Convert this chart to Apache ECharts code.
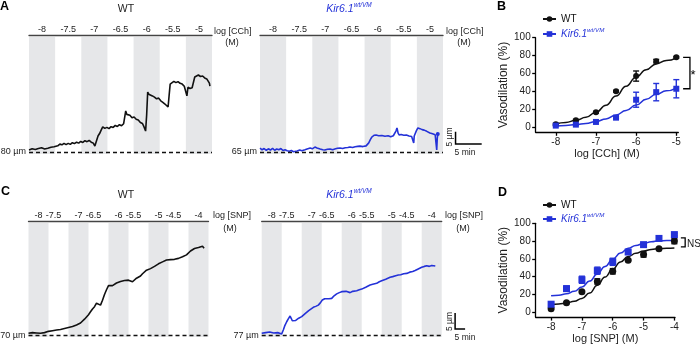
<!DOCTYPE html>
<html>
<head>
<meta charset="utf-8">
<script src="https://cdn.jsdelivr.net/npm/echarts@6/dist/echarts.min.js"></script>
<style>
  html, body { margin: 0; padding: 0; background: #fff; }
  #chart { width: 700px; height: 345px; }
</style>
</head>
<body>
<div id="chart"></div>
<script>
const FONT = '"Liberation Sans", Arial, sans-serif'
const BLACK = '#111'
const BLUE = '#2432d8'
const BAND = '#e6e7e9'

// concentration steps (log M) shown above the traces
const cchSteps = ['-8', '-7.5', '-7', '-6.5', '-6', '-5.5', '-5']
const snpSteps = ['-8', '-7.5', '-7', '-6.5', '-6', '-5.5', '-5', '-4.5', '-4']

// diameter traces: [time (min), diameter (µm)]
const wtCChTrace = [[0,80.8],[0.3,80.2],[0.6,81.3],[0.9,80.5],[1.2,81.0],[1.5,80.3],[1.8,81.4],[2.1,80.7],[2.4,81.7],[2.7,80.9],[3.0,81.2],[3.3,80.6],[3.6,81.5],[3.9,81.0],[4.2,81.9],[4.5,82.5],[4.8,82.1],[5.1,82.9],[5.5,82.5],[5.9,83.2],[6.3,82.9],[6.7,83.5],[7.1,83.0],[7.5,83.5],[7.9,83.1],[8.3,83.8],[8.7,83.4],[9.1,84.0],[9.5,83.6],[9.9,84.3],[10.3,83.9],[10.7,84.6],[11.1,84.2],[11.5,84.7],[11.9,84.0],[12.3,83.6],[12.6,82.4],[12.9,84.5],[13.2,86.5],[13.5,87.5],[13.8,88.9],[14.1,90.2],[14.5,89.6],[14.9,90.0],[15.3,89.5],[15.7,90.3],[16.1,90.0],[16.5,90.8],[16.9,90.4],[17.3,91.1],[17.7,90.7],[18.1,91.5],[18.3,91.2],[18.5,96.7],[18.7,95.3],[18.9,94.6],[19.3,94.9],[19.7,93.9],[20.1,94.2],[20.5,93.3],[20.9,93.0],[21.3,92.0],[21.7,91.6],[22.0,90.2],[22.3,88.5],[22.5,95.0],[22.7,104.4],[22.9,103.5],[23.2,103.9],[23.6,102.8],[24.0,102.3],[24.4,101.6],[24.8,101.9],[25.2,100.8],[25.6,100.2],[26.0,99.5],[26.3,98.9],[26.6,98.3],[26.8,103.0],[27.0,107.6],[27.3,108.2],[27.7,108.7],[28.1,108.2],[28.5,108.6],[28.9,107.9],[29.3,107.6],[29.7,106.7],[30.0,106.9],[30.2,102.8],[30.4,106.3],[30.8,105.8],[31.2,106.1],[31.5,105.4],[31.7,110.5],[32.0,110.9],[32.4,111.3],[32.8,110.7],[33.2,110.9],[33.6,110.1],[34.0,109.7],[34.3,109.3],[34.5,108.0],[34.6,106.8]]
const kirCChTrace = [[0,66.6],[0.4,65.9],[0.8,66.4],[1.2,65.7],[1.6,66.3],[2.0,65.8],[2.4,66.5],[2.8,65.7],[3.2,66.2],[3.6,65.9],[4.0,66.4],[4.4,65.6],[4.8,65.9],[5.2,65.5],[5.6,65.3],[6.0,65.6],[6.4,65.1],[6.7,65.0],[7.1,65.4],[7.6,65.8],[8.0,65.5],[8.6,65.9],[9.0,66.2],[9.6,66.6],[10.0,66.3],[10.5,67.0],[10.9,66.6],[11.5,66.2],[12.0,65.9],[12.4,65.8],[12.9,66.1],[13.4,66.2],[13.9,65.9],[14.3,66.2],[14.8,66.5],[15.3,66.6],[15.8,66.4],[16.3,66.7],[16.8,66.8],[17.2,67.0],[17.7,66.8],[18.2,67.1],[18.7,67.3],[19.1,67.4],[19.7,67.2],[20.3,67.5],[20.8,68.7],[21.1,70.0],[21.4,71.1],[21.8,71.8],[22.2,71.9],[22.7,71.6],[23.3,71.7],[23.9,71.4],[24.5,71.6],[25.0,71.2],[25.2,71.1],[25.5,71.6],[25.8,72.3],[26.0,73.5],[26.2,74.8],[26.4,72.8],[26.6,71.9],[27.0,72.1],[27.5,71.8],[28.0,71.9],[28.5,71.5],[29.0,71.3],[29.3,71.1],[29.4,68.7],[29.5,71.5],[29.6,72.3],[29.9,73.6],[30.2,74.8],[30.6,74.5],[31.0,74.1],[31.4,73.9],[31.9,73.4],[32.5,72.7],[33.0,72.4],[33.5,72.0],[33.7,71.9],[33.8,65.8],[33.9,70.5],[34.0,72.3]]
const wtSNPTrace = [[0,70.7],[1,70.3],[2,70.9],[3,70.4],[4,70.8],[5,70.3],[6,70.7],[7,70.5],[8,70.9],[9,71.0],[10,71.3],[11,71.1],[12,71.5],[13,71.3],[14,71.7],[15,71.6],[16,71.9],[17,71.7],[18,72.2],[19,72.0],[20,72.5],[21,72.3],[22,72.8],[23,72.7],[24,73.3],[25,73.4],[26,73.9],[27,74.4],[28,75.1],[29,75.8],[30,76.5],[31,77.4],[32,78.3],[33,79.0],[34,80.1],[35,79.8],[36,79.5],[37,81.0],[38,82.8],[39,84.3],[40,85.6],[41,85.9],[42,85.6],[43,86.0],[44,86.4],[45,86.2],[46,86.9],[47,86.7],[48,87.2],[49,87.0],[50,87.3],[51,87.0],[52,86.8],[53,87.3],[54,87.9],[55,88.2],[56,88.6],[57,89.3],[58,89.9],[59,90.4],[60,90.6],[61,90.9],[62,91.0],[63,91.6],[64,92.0],[65,92.4],[66,92.6],[67,93.0],[68,93.2],[69,93.6],[70,93.3],[71,93.7],[72,93.5],[73,93.8],[74,93.9],[75,94.1],[76,94.3],[77,94.6],[78,94.9],[79,95.2],[80,95.8],[81,96.4],[82,96.8],[83,97.2],[84,97.6],[85,97.5],[86,97.8],[87,97.9],[87.8,97.3]]
const kirSNPTrace = [[0,77.7],[1,77.4],[2,77.9],[3,77.6],[4,78.1],[5,77.5],[6,77.8],[7,77.5],[8,77.9],[9,77.4],[10,77.5],[10.8,78.7],[11.5,80.0],[12.5,81.3],[13.3,82.2],[14.2,83.1],[14.8,82.3],[15.3,81.6],[16,82.0],[17,81.7],[17.5,81.8],[18.5,82.4],[19.3,82.2],[20,82.9],[21,83.3],[22,84.0],[22.5,84.4],[23.5,84.8],[24.5,85.3],[25.8,85.8],[27,86.1],[28.3,86.5],[29.3,87.2],[30.3,88.1],[31.5,88.5],[32.5,88.8],[33.7,88.5],[35,88.6],[36.2,89.4],[37.5,90.0],[38.8,90.4],[40,90.7],[41,90.5],[42.2,90.8],[43.2,90.3],[44.2,90.4],[45.5,90.8],[46.5,90.6],[47.5,91.0],[48.8,91.3],[50,91.5],[50.8,91.8],[52,92.1],[53,92.5],[54.2,92.8],[55.5,93.0],[56.5,93.2],[57.5,93.3],[58.8,93.8],[60,94.1],[60.8,94.3],[62,94.6],[63,94.9],[64.2,95.2],[65.5,95.4],[67,95.7],[68.3,95.9],[69.5,96.0],[71,96.3],[72.5,96.4],[74,96.8],[75.5,97.0],[76.7,97.3],[78,97.7],[79,98.0],[80,98.3],[81.3,98.6],[82.5,98.8],[83.8,98.6],[85,98.9],[86.8,98.7]]

// concentration-response, CCh (panel B)
const cchLog = [-8, -7.5, -7, -6.5, -6, -5.5, -5]
const cchWT = [3, 7.5, 16.4, 40, 57, 73.7, 78]
const cchWTErr = [1, 1, 1, 1, 5.7, 2, 1]
const cchKir = [1.5, 2.6, 5.6, 10.4, 30.5, 39, 42.8]
const cchKirErr = [0.5, 0.5, 0.5, 1, 8.4, 9.7, 10.2]
const cchFitX = [-8, -7.75, -7.5, -7.25, -7, -6.75, -6.5, -6.25, -6, -5.75, -5.5, -5.25, -5]
const cchFitWT = [3.3, 5.0, 7.4, 10.8, 16.4, 24.4, 34.6, 45.6, 55.8, 64.2, 70.6, 74.4, 77.2]
const cchFitKir = [1.1, 1.7, 2.6, 4.0, 6.0, 9.0, 13.4, 18.5, 24.6, 31.0, 36.5, 40.5, 43.6]

// concentration-response, SNP (panel D)
const snpLog = [-8, -7.5, -7, -6.5, -6, -5.5, -5, -4.5, -4]
const snpWT = [4, 10.5, 23, 34.6, 46, 58.5, 65, 71.5, 80]
const snpWTErr = [1, 1, 1, 3, 3, 1, 3, 1, 3]
const snpKir = [9, 26.5, 36.5, 46.7, 56.7, 67.7, 76, 83, 87.3]
const snpKirErr = [1, 3, 4, 4, 4, 2, 1.5, 2, 1.5]
const snpFitX = [-8, -7.75, -7.5, -7.25, -7, -6.75, -6.5, -6.25, -6, -5.75, -5.5, -5.25, -5, -4.75, -4.5, -4.25, -4]
const snpFitWT = [8.8, 9.3, 10.3, 12.3, 15.5, 21.5, 30.2, 39.5, 48.6, 56.5, 62.6, 66.2, 68.8, 70.5, 71.5, 72, 72.2]
const snpFitKir = [18.4, 19.2, 20.7, 23.5, 28.4, 35, 43, 51.5, 59.7, 66.5, 71.8, 75, 77.3, 79.2, 80.3, 80.7, 81]

const zip = (xs, ys) => xs.map((x, i) => [x, ys[i]])
const zip3 = (xs, ys, es) => xs.map((x, i) => [x, ys[i], es[i]])

const panels = [
  { trace: wtCChTrace, base: 80, steps: cchSteps, stepMin: 5, halfAt: 0.5, pxPerUm: 2.46, basePx: 2, color: BLACK,
    grid: { left: 29, top: 37, width: 183, height: 117 } },
  { trace: kirCChTrace, base: 65, steps: cchSteps, stepMin: 5, halfAt: 0.5, pxPerUm: 2.46, basePx: 2, color: BLUE, endDot: true,
    grid: { left: 260, top: 37, width: 183, height: 117 }, bar: { t: 37.4, d: 68.25 } },
  { trace: wtSNPTrace, base: 70, steps: snpSteps, stepMin: 10, halfAt: 0.25, pxPerUm: 3.2, basePx: 1.5, color: BLACK,
    grid: { left: 28.5, top: 223, width: 180, height: 114 } },
  { trace: kirSNPTrace, base: 77, steps: snpSteps, stepMin: 10, halfAt: 0.25, pxPerUm: 3.2, basePx: 1.5, color: BLUE,
    grid: { left: 261.7, top: 223, width: 180, height: 114 }, bar: { t: 96.7, d: 79.0 } }
]

// polyline drawn through the axes (used for scale bars and brackets outside the plot area)
const polyline = (gi, pts, width) => ({
  type: 'custom', xAxisIndex: gi, yAxisIndex: gi, data: [[0, 0]], silent: true, clip: false, z: 6,
  renderItem: (params, api) => ({
    type: 'polyline',
    shape: { points: pts.map(p => api.coord(p)) },
    style: { stroke: '#000', lineWidth: width, fill: null }
  })
})

const grid = [], xAxis = [], yAxis = [], series = []

panels.forEach((p, i) => {
  grid.push(p.grid)
  const pos = p.steps.map((s, k) => (k + (k % 2 ? p.halfAt : 0.5)) * p.stepMin)
  xAxis.push({
    gridIndex: i, type: 'value', position: 'top', offset: 2, min: 0, max: p.steps.length * p.stepMin,
    axisLine: { lineStyle: { color: '#444', width: 1.3 } },
    axisTick: { show: false },
    splitLine: { show: false },
    axisLabel: {
      customValues: pos,
      formatter: v => p.steps[pos.findIndex(q => Math.abs(q - v) < 1e-6)],
      fontSize: 9, color: '#222', fontFamily: FONT, margin: 1
    }
  })
  const yMin = p.base - p.basePx / p.pxPerUm
  yAxis.push({ gridIndex: i, type: 'value', show: false, min: yMin, max: yMin + p.grid.height / p.pxPerUm })
  const bands = p.steps.map((s, k) => k).filter(k => k % 2 === 0)
    .map(k => [{ xAxis: k * p.stepMin }, { xAxis: (k + 1) * p.stepMin }])
  series.push({
    type: 'line', xAxisIndex: i, yAxisIndex: i, data: p.trace, symbol: 'none', z: 3,
    lineStyle: { color: p.color, width: 1.6 },
    markArea: { silent: true, itemStyle: { color: BAND }, data: bands },
    markLine: {
      silent: true, symbol: 'none',
      lineStyle: { color: '#111', type: [4, 3], width: 1.3 },
      label: { position: 'start', formatter: p.base + ' µm', fontSize: 9, color: '#222', fontFamily: FONT, distance: 3 },
      data: [{ yAxis: p.base }]
    }
  })
  if (p.endDot) {
    series.push({ type: 'scatter', xAxisIndex: i, yAxisIndex: i, data: [p.trace[p.trace.length - 1]],
      symbol: 'circle', symbolSize: 4, itemStyle: { color: p.color, opacity: 1 }, z: 4 })
  }
  if (p.bar) {
    // scale bar: 5 µm vertical, 5 min horizontal
    series.push(polyline(i, [[p.bar.t, p.bar.d + 5], [p.bar.t, p.bar.d], [p.bar.t + 5, p.bar.d]], 1.5))
  }
})

const errorBars = (gi, data, color) => ({
  type: 'custom', xAxisIndex: gi, yAxisIndex: gi, data, z: 4, silent: true,
  renderItem: (params, api) => {
    const x = api.value(0), m = api.value(1), e = api.value(2)
    const hi = api.coord([x, m + e]), lo = api.coord([x, m - e])
    const st = { stroke: color, lineWidth: 1.4 }
    return { type: 'group', children: [
      { type: 'line', shape: { x1: hi[0], y1: hi[1], x2: lo[0], y2: lo[1] }, style: st },
      { type: 'line', shape: { x1: hi[0] - 3, y1: hi[1], x2: hi[0] + 3, y2: hi[1] }, style: st },
      { type: 'line', shape: { x1: lo[0] - 3, y1: lo[1], x2: lo[0] + 3, y2: lo[1] }, style: st }
    ] }
  }
})

const drPanels = [
  { grid: { left: 535.7, top: 37.7, width: 142.6, height: 94.6 }, xMin: -8.5, xMax: -4.95, yMin: -6,
    xTicks: [-8, -7, -6, -5], name: 'log [CCh] (M)', nameGap: 15, sym: 6, key: 'B',
    logs: cchLog, wt: cchWT, wtErr: cchWTErr, kir: cchKir, kirErr: cchKirErr, fitX: cchFitX, fitWT: cchFitWT, fitKir: cchFitKir },
  { grid: { left: 535.7, top: 223.3, width: 139.3, height: 95.7 }, xMin: -8.5, xMax: -3.98, yMin: -5.5,
    xTicks: [-8, -7, -6, -5, -4], name: 'log [SNP] (M)', nameGap: 13, sym: 7, key: 'D',
    logs: snpLog, wt: snpWT, wtErr: snpWTErr, kir: snpKir, kirErr: snpKirErr, fitX: snpFitX, fitWT: snpFitWT, fitKir: snpFitKir }
]

const axisStyle = { lineStyle: { color: '#000', width: 1.3 } }
drPanels.forEach((d, j) => {
  const gi = 4 + j
  grid.push(d.grid)
  xAxis.push({
    gridIndex: gi, type: 'value', min: d.xMin, max: d.xMax,
    name: d.name, nameLocation: 'middle', nameGap: d.nameGap,
    nameTextStyle: { fontSize: 11, color: '#222', fontFamily: FONT },
    axisLine: { onZero: false, ...axisStyle },
    axisTick: { customValues: d.xTicks, length: 3.5, ...axisStyle },
    axisLabel: { customValues: d.xTicks, fontSize: 10, color: '#222', fontFamily: FONT, margin: 5 },
    splitLine: { show: false }
  })
  yAxis.push({
    gridIndex: gi, type: 'value', min: d.yMin, max: 100,
    name: 'Vasodilation (%)', nameLocation: 'middle', nameGap: 21,
    nameTextStyle: { fontSize: 12, color: '#222', fontFamily: FONT },
    axisLine: { onZero: false, ...axisStyle },
    axisTick: { customValues: [0, 20, 40, 60, 80, 100], length: 3.5, ...axisStyle },
    axisLabel: { customValues: [0, 20, 40, 60, 80, 100], fontSize: 10, color: '#222', fontFamily: FONT, margin: 5 },
    splitLine: { show: false }
  })
  series.push(
    { name: 'WT' + d.key, type: 'line', xAxisIndex: gi, yAxisIndex: gi, data: zip(d.fitX, d.fitWT), smooth: true, smoothMonotone: 'x',
      symbol: 'circle', symbolSize: d.sym, showSymbol: false, lineStyle: { color: BLACK, width: 1.5 }, itemStyle: { color: BLACK }, z: 2 },
    { name: 'Kir' + d.key, type: 'line', xAxisIndex: gi, yAxisIndex: gi, data: zip(d.fitX, d.fitKir), smooth: true, smoothMonotone: 'x',
      symbol: 'rect', symbolSize: d.sym, showSymbol: false, lineStyle: { color: BLUE, width: 1.5 }, itemStyle: { color: BLUE }, z: 2 },
    errorBars(gi, zip3(d.logs, d.wt, d.wtErr), BLACK),
    errorBars(gi, zip3(d.logs, d.kir, d.kirErr), BLUE),
    { type: 'scatter', xAxisIndex: gi, yAxisIndex: gi, data: zip(d.logs, d.wt), symbol: 'circle', symbolSize: d.sym,
      itemStyle: { color: BLACK, opacity: 1 }, z: 5 },
    { type: 'scatter', xAxisIndex: gi, yAxisIndex: gi, data: zip(d.logs, d.kir), symbol: 'rect', symbolSize: d.sym,
      itemStyle: { color: BLUE, opacity: 1 }, z: 5 }
  )
})

// significance brackets
const cchTop = cchWT[cchWT.length - 1], cchBottom = cchKir[cchKir.length - 1]
series.push(
  polyline(4, [[-4.83, cchTop], [-4.66, cchTop], [-4.66, cchBottom], [-4.83, cchBottom]], 1.3),
  polyline(5, [[-3.79, 83.5], [-3.65, 83.5], [-3.65, 73.5], [-3.79, 73.5]], 1.3)
)

const kirRich = (size, key) => ({
  i: { fontStyle: 'italic', fontSize: size, fontFamily: FONT, [key]: BLUE, lineHeight: size + 4 },
  s: { fontStyle: 'italic', fontSize: size * 0.62, fontFamily: FONT, [key]: BLUE, verticalAlign: 'top' }
})
const T = (x, y, text, s) => ({
  type: 'text', x, y, silent: true,
  style: Object.assign({ text, fill: '#222', fontSize: 9, fontFamily: FONT, align: 'left', verticalAlign: 'middle' }, s)
})
const bold = { fontSize: 12.5, fontWeight: 'bold', fill: '#000', verticalAlign: 'top' }
const center = { align: 'center' }

const graphic = [
  T(0, 0, 'A', bold), T(497, 0, 'B', bold), T(1, 185, 'C', bold), T(498, 186, 'D', bold),
  T(126, 9, 'WT', { fontSize: 10.5, align: 'center' }),
  T(349, 9, '{i|Kir6.1}{s|wt/VM}', { align: 'center', rich: kirRich(10.5, 'fill') }),
  T(126, 195, 'WT', { fontSize: 10.5, align: 'center' }),
  T(349, 195, '{i|Kir6.1}{s|wt/VM}', { align: 'center', rich: kirRich(10.5, 'fill') }),
  T(214, 32, 'log [CCh]'), T(232, 43, '(M)', center),
  T(446, 32, 'log [CCh]'), T(464, 43, '(M)', center),
  T(213, 216, 'log [SNP]'), T(230, 229, '(M)', center),
  T(445, 216, 'log [SNP]'), T(463, 229, '(M)', center),
  Object.assign(T(449.5, 137, '5 µm', { fontSize: 8.5, align: 'center' }), { rotation: Math.PI / 2 }),
  T(465, 153, '5 min', { fontSize: 8.5, align: 'center' }),
  Object.assign(T(449.5, 321.5, '5 µm', { fontSize: 8.5, align: 'center' }), { rotation: Math.PI / 2 }),
  T(465, 338, '5 min', { fontSize: 8.5, align: 'center' }),
  T(693, 75, '*', { fontSize: 13, fill: '#000', align: 'center' }),
  T(687, 244, 'NS', { fontSize: 10 })
]

const legendText = {
  fontSize: 10, fontFamily: FONT,
  rich: Object.assign({ w: { fontSize: 10, fontFamily: FONT, color: '#111' } }, kirRich(10, 'color'))
}
const legendFmt = n => (n.startsWith('WT') ? '{w|WT}' : '{i|Kir6.1}{s|wt/VM}')
const legend = [
  { left: 537, top: 9, orient: 'vertical', itemWidth: 13, itemHeight: 7, itemGap: 3, selectedMode: false,
    data: ['WTB', 'KirB'], formatter: legendFmt, textStyle: legendText },
  { left: 537, top: 195, orient: 'vertical', itemWidth: 13, itemHeight: 7, itemGap: 2, selectedMode: false,
    data: ['WTD', 'KirD'], formatter: legendFmt, textStyle: legendText }
]

const myChart = echarts.init(document.getElementById('chart'))
myChart.setOption({
  animation: false,
  textStyle: { fontFamily: FONT },
  grid, xAxis, yAxis, series, legend, graphic
})
</script>
</body>
</html>
